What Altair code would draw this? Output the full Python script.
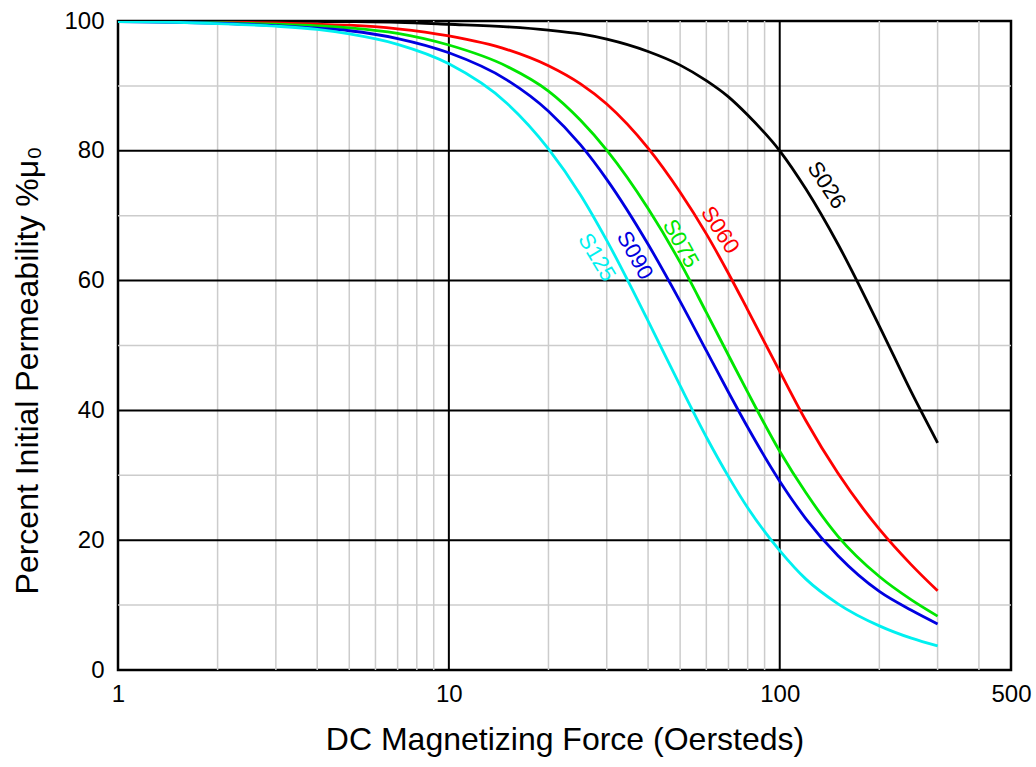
import altair as alt
import pandas as pd

# DC bias curves: percent of initial permeability vs. magnetizing force (Oe)
H = [1, 1.5, 2, 3, 4, 5, 7, 10, 15, 20, 25, 30, 40, 50, 60, 70, 80, 100, 120, 150, 200, 250, 300]

S026 = [100.0, 100.0, 99.98, 99.96, 99.93, 99.9, 99.8, 99.5, 99.1, 98.6, 98.0, 97.2, 95.3, 93.2,
        90.8, 88.3, 85.5, 80.0, 74.1, 65.6, 53.0, 42.8, 35.0]
S060 = [99.96, 99.92, 99.86, 99.7, 99.5, 99.35, 98.8, 97.7, 95.6, 93.1, 90.3, 87.2, 80.4, 73.6,
        67.2, 61.1, 55.5, 46.0, 38.4, 30.3, 21.7, 16.2, 12.2]
S075 = [99.93, 99.86, 99.76, 99.5, 99.25, 98.95, 98.1, 96.3, 93.0, 89.2, 84.7, 80.1, 71.1, 62.8,
        55.1, 48.5, 42.8, 33.7, 27.3, 20.6, 14.4, 10.8, 8.3]
S090 = [99.9, 99.8, 99.65, 99.3, 98.9, 98.5, 97.3, 95.1, 90.9, 86.1, 80.9, 75.6, 65.6, 56.8,
        49.2, 42.8, 37.4, 29.1, 23.3, 17.6, 12.1, 9.2, 7.1]
S125 = [99.9, 99.8, 99.6, 99.2, 98.7, 98.0, 96.4, 93.4, 87.3, 80.3, 73.2, 66.2, 53.8, 43.8,
        35.9, 29.8, 25.0, 18.4, 14.0, 10.2, 6.8, 4.9, 3.7]

series_names = ["S026", "S060", "S075", "S090", "S125"]
series_values = [S026, S060, S075, S090, S125]
series_colors = ["#000000", "#ff0000", "#00e600", "#0000e0", "#00f0f0"]

# in-plot curve labels (data coordinates and text rotation)
label_H = [138.6, 66.0, 50.2, 36.5, 28.0]
label_pct = [74.7, 67.8, 65.7, 63.9, 63.6]
label_angle = [57, 57, 61, 61, 59]

# grid lines
x_minor = [2, 3, 4, 5, 6, 7, 8, 9, 20, 30, 40, 50, 60, 70, 80, 90, 200, 300, 400]
x_major = [10, 100]
y_minor = [10, 30, 50, 70, 90]
y_major = [20, 40, 60, 80]

x_ticks = [1, 10, 100, 500]
y_ticks = [0, 20, 40, 60, 80, 100]

rows = []
for name, vals in zip(series_names, series_values):
    for h, v in zip(H, vals):
        rows.append({"H": h, "pct": v, "grade": name})
curves = pd.DataFrame(rows)
labels = pd.DataFrame({"H": label_H, "pct": label_pct, "grade": series_names, "ang": label_angle})

xscale = alt.Scale(type="log", domain=[1, 500], nice=False)
yscale = alt.Scale(domain=[0, 100], nice=False, zero=False)
cscale = alt.Scale(domain=series_names, range=series_colors)

xaxis = alt.Axis(values=x_ticks, format="d", grid=False, ticks=False, domain=False,
                 labelFontSize=24, labelPadding=12, labelColor="#000000",
                 labelFlush=False, title="DC Magnetizing Force (Oersteds)",
                 titleFontSize=32, titleFontWeight="normal", titleColor="#000000",
                 titlePadding=18)
yaxis = alt.Axis(values=y_ticks, grid=False, ticks=False, domain=False,
                 labelFontSize=24, labelPadding=14, labelColor="#000000",
                 title="Percent Initial Permeability %μ₀",
                 titleFontSize=32, titleFontWeight="normal", titleColor="#000000",
                 titlePadding=19, titleY=349)


def xenc(field):
    return alt.X(field, scale=xscale, axis=xaxis)


def yenc(field):
    return alt.Y(field, scale=yscale, axis=yaxis)


minor_x = alt.Chart(pd.DataFrame({"v": x_minor})).mark_rule(color="#cccccc", strokeWidth=1.5).encode(
    x=xenc("v:Q"))
minor_y = alt.Chart(pd.DataFrame({"v": y_minor})).mark_rule(color="#cccccc", strokeWidth=1.5).encode(
    y=yenc("v:Q"))
major_x = alt.Chart(pd.DataFrame({"v": x_major})).mark_rule(color="#000000", strokeWidth=2).encode(
    x=xenc("v:Q"))
major_y = alt.Chart(pd.DataFrame({"v": y_major})).mark_rule(color="#000000", strokeWidth=2).encode(
    y=yenc("v:Q"))

lines = alt.Chart(curves).mark_line(strokeWidth=2.8, interpolate="monotone", clip=True).encode(
    x=xenc("H:Q"),
    y=yenc("pct:Q"),
    color=alt.Color("grade:N", scale=cscale, legend=None),
    detail="grade:N",
)

texts = alt.Chart(labels).mark_text(fontSize=22, align="center", baseline="middle").encode(
    x=xenc("H:Q"),
    y=yenc("pct:Q"),
    text="grade:N",
    angle=alt.Angle("ang:Q", scale=None),
    color=alt.Color("grade:N", scale=cscale, legend=None),
)

chart = alt.layer(minor_x, minor_y, major_x, major_y, lines, texts).properties(
    width=893, height=649,
    padding={"left": 118, "top": 21, "right": 25, "bottom": 97},
    autosize=alt.AutoSizeParams(type="none"),
).configure(font="Liberation Sans").configure_view(stroke="#000000", strokeWidth=2.5)

chart.save("out.html", embed_options={"renderer": "svg", "actions": False})
